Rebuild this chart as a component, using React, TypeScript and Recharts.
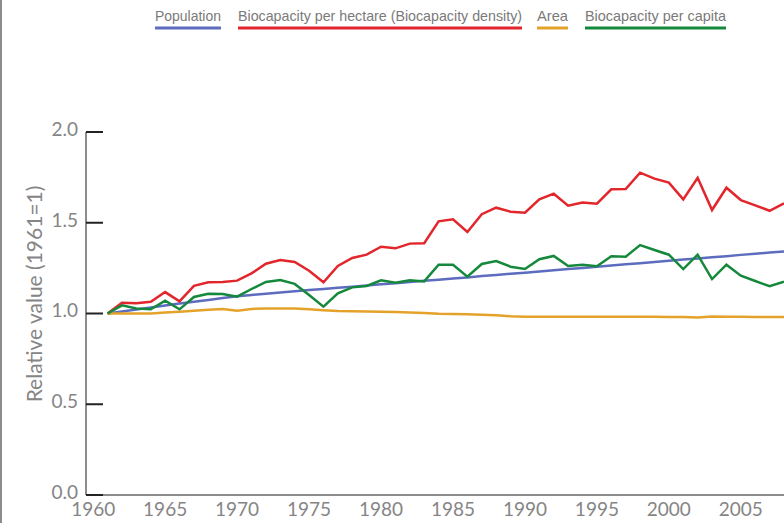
import { LineChart, Line, XAxis, YAxis } from "recharts";

const years = [
  1961, 1962, 1963, 1964, 1965, 1966, 1967, 1968, 1969, 1970,
  1971, 1972, 1973, 1974, 1975, 1976, 1977, 1978, 1979, 1980,
  1981, 1982, 1983, 1984, 1985, 1986, 1987, 1988, 1989, 1990,
  1991, 1992, 1993, 1994, 1995, 1996, 1997, 1998, 1999, 2000,
  2001, 2002, 2003, 2004, 2005, 2006, 2007, 2008,
];

const population = [
  1.0, 1.011, 1.022, 1.033, 1.044, 1.055, 1.065, 1.075, 1.085, 1.095,
  1.102, 1.109, 1.116, 1.122, 1.129, 1.135, 1.142, 1.148, 1.154, 1.161,
  1.167, 1.173, 1.18, 1.186, 1.193, 1.199, 1.206, 1.212, 1.219, 1.225,
  1.232, 1.238, 1.245, 1.251, 1.258, 1.264, 1.271, 1.277, 1.284, 1.29,
  1.297, 1.303, 1.31, 1.316, 1.323, 1.329, 1.336, 1.342,
];

const biocapacityDensity = [
  1.0, 1.059, 1.056, 1.065, 1.118, 1.067, 1.152, 1.172, 1.174, 1.181,
  1.221, 1.274, 1.295, 1.284, 1.236, 1.172, 1.262, 1.306, 1.324, 1.368,
  1.359, 1.385, 1.387, 1.508, 1.519, 1.449, 1.547, 1.583, 1.561, 1.555,
  1.629, 1.66, 1.594, 1.612, 1.605, 1.684, 1.686, 1.776, 1.743, 1.721,
  1.629, 1.748, 1.57, 1.693, 1.625, 1.596, 1.566, 1.607,
];

const area = [
  1.0, 1.0, 1.0, 1.0, 1.005, 1.01, 1.015, 1.02, 1.025, 1.015,
  1.025, 1.028, 1.028, 1.027, 1.023, 1.018, 1.014, 1.013, 1.011, 1.01,
  1.008, 1.005, 1.003, 0.999, 0.997, 0.996, 0.993, 0.99, 0.985, 0.982,
  0.982, 0.982, 0.982, 0.982, 0.982, 0.982, 0.982, 0.982, 0.982, 0.981,
  0.981, 0.978, 0.984, 0.982, 0.982, 0.981, 0.981, 0.981,
];

const biocapacityPerCapita = [
  1.0, 1.045, 1.028, 1.023, 1.071, 1.023, 1.091, 1.109, 1.107, 1.093,
  1.135, 1.174, 1.185, 1.163, 1.102, 1.038, 1.111, 1.144, 1.152, 1.183,
  1.17, 1.183, 1.177, 1.269, 1.269, 1.203, 1.273, 1.289, 1.258, 1.245,
  1.299, 1.317, 1.262, 1.269, 1.26, 1.315, 1.313, 1.377, 1.35, 1.324,
  1.245, 1.324, 1.19, 1.269, 1.208, 1.179, 1.15, 1.175,
];

const xTicks = [1960, 1965, 1970, 1975, 1980, 1985, 1990, 1995, 2000, 2005];
const yTicks = [0, 0.5, 1, 1.5, 2];

const series = [
  { key: "population", name: "Population", color: "#5d6cbf" },
  { key: "density", name: "Biocapacity per hectare (Biocapacity density)", color: "#e2262c" },
  { key: "area", name: "Area", color: "#e5a22a" },
  { key: "perCapita", name: "Biocapacity per capita", color: "#15893b" },
];

// legend item boxes (left edge, width) in px
const legendBoxes = [
  { x: 155, w: 66 },
  { x: 238, w: 284 },
  { x: 537, w: 31 },
  { x: 585, w: 141 },
];

const data = years.map((year, i) => ({
  year,
  population: population[i],
  density: biocapacityDensity[i],
  area: area[i],
  perCapita: biocapacityPerCapita[i],
}));

const tickFont = "Lato, 'Open Sans', sans-serif";
const tickColor = "#858585";

function YTick(props: any) {
  const { x, y, payload } = props;
  return (
    <g>
      <line x1={x + 8} x2={x + 25} y1={y} y2={y} stroke="#222" strokeWidth={2} />
      <text x={x} y={y - 3} dy="0.36em" textAnchor="end" fill={tickColor} fontSize={19} fontFamily={tickFont}>
        {Number(payload.value).toFixed(1)}
      </text>
    </g>
  );
}

function YLabel() {
  return (
    <text
      x={33}
      y={294}
      transform="rotate(-90 33 294)"
      textAnchor="middle"
      dominantBaseline="central"
      fill={tickColor}
      fontSize={21}
      fontFamily={tickFont}
    >
      Relative value (1961=1)
    </text>
  );
}

function TopLegend() {
  return (
    <svg width={784} height={40} style={{ position: "absolute", left: 0, top: 0, zIndex: 2 }}>
      {series.map((s, i) => {
        const b = legendBoxes[i];
        return (
          <g key={s.key}>
            <text
              x={b.x}
              y={21}
              textLength={b.w}
              lengthAdjust="spacingAndGlyphs"
              fill="#7a7a7a"
              fontSize={15}
              fontFamily="'Liberation Sans', Arial, sans-serif"
            >
              {s.name}
            </text>
            <line x1={b.x} x2={b.x + b.w} y1={28} y2={28} stroke={s.color} strokeWidth={3} />
          </g>
        );
      })}
    </svg>
  );
}

export default function App() {
  return (
    <div style={{ position: "absolute", left: 0, top: 0, width: 784, height: 523, overflow: "hidden", background: "#fff" }}>
      <div style={{ position: "absolute", left: 0, top: 0, width: 2, height: 523, background: "#8c8c8c" }} />
      <TopLegend />
      <LineChart width={784} height={523} data={data} margin={{ top: 132, right: 0, bottom: 0, left: 0 }}>
        <XAxis
          dataKey="year"
          type="number"
          domain={[1959.5, 2008]}
          ticks={xTicks}
          allowDataOverflow
          height={28}
          axisLine={{ stroke: "#666", strokeWidth: 1.5 }}
          tickLine={false}
          tickSize={0}
          tickMargin={8}
          tick={{ fill: tickColor, fontSize: 19, fontFamily: tickFont }}
        />
        <YAxis
          domain={[0, 2]}
          ticks={yTicks}
          width={86}
          axisLine={{ stroke: "#666", strokeWidth: 1.5 }}
          tickLine={false}
          tickSize={0}
          tickMargin={8}
          tick={<YTick />}
          label={{ content: () => <YLabel /> }}
        />
        {series.map((s) => (
          <Line
            key={s.key}
            dataKey={s.key}
            name={s.name}
            type="linear"
            stroke={s.color}
            strokeWidth={2.5}
            dot={false}
            isAnimationActive={false}
          />
        ))}
      </LineChart>
    </div>
  );
}
